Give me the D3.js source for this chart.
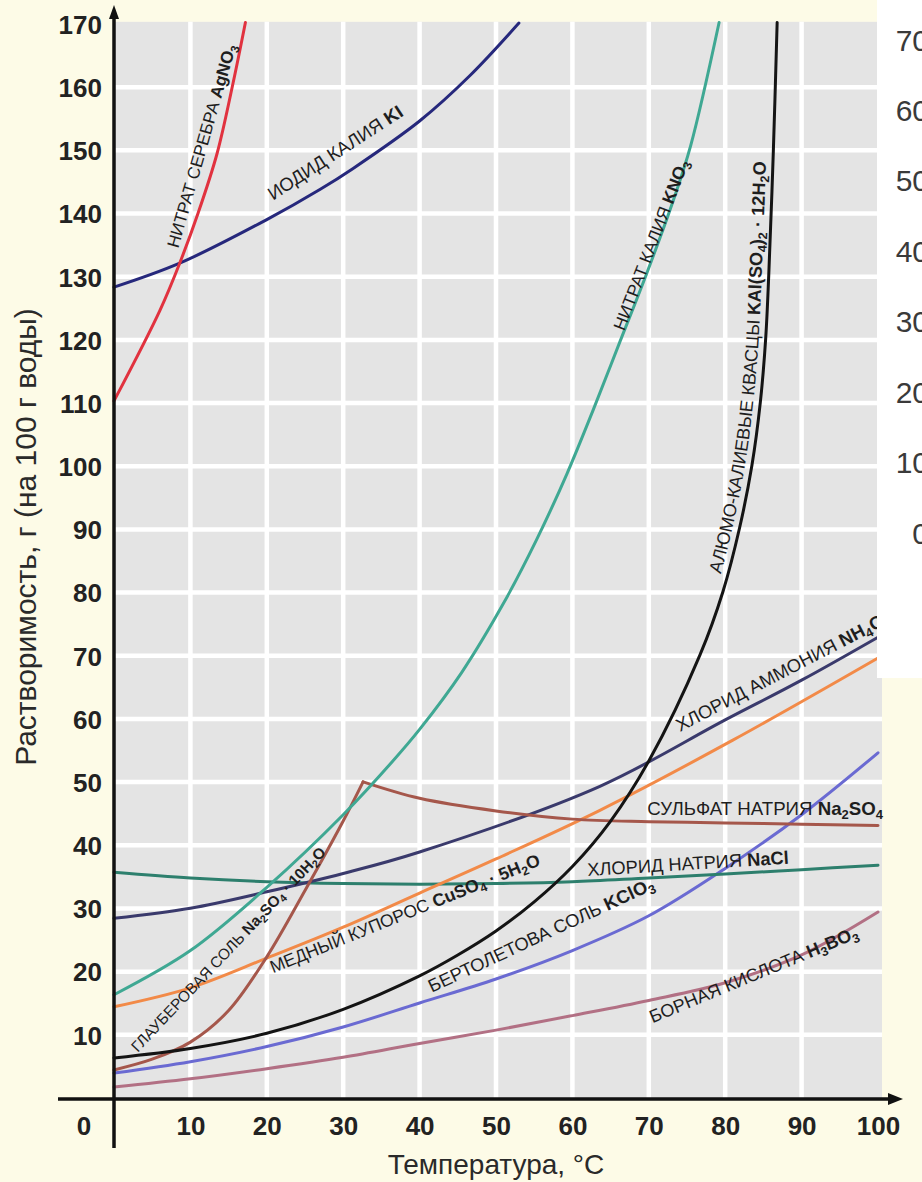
<!DOCTYPE html>
<html><head><meta charset="utf-8">
<script src="https://cdn.jsdelivr.net/npm/d3@7"></script>
<style>
html,body{margin:0;padding:0;background:#fdfbe7;}
svg{display:block;}
</style>
</head><body>
<svg id="chart" width="922" height="1182"></svg>
<script>
// ---------------- DATA ----------------
// temperature (°C) and solubility (g per 100 g water)
const agno3T = [0, 6, 8.6, 11, 13.5, 15.6, 17.2];
const agno3V = [110.5, 124.8, 132.3, 140.2, 149.7, 160.9, 170.4];

const kiT = [0, 8.6, 20, 27, 31.3, 40, 46.6, 53];
const kiV = [128.5, 132.3, 139.2, 144, 147.3, 154.8, 162, 170.3];

const kno3T = [0, 10, 20, 30, 36.5, 40, 45.5, 51, 55.3, 59.3, 62.7, 66.2, 69.7, 73, 75.5, 79.2];
const kno3V = [16.5, 23.5, 33.5, 45, 53.5, 58.5, 67.5, 78.5, 88.5, 99, 109, 119.8, 130.6, 141.5, 151, 170.4];

const alumT = [0, 10, 20, 30, 40, 45, 50, 55, 60, 65, 70, 76.7, 79.7, 81.9, 83.5, 84.6, 85.3, 85.7, 86.3, 86.8];
const alumV = [6.5, 8, 10.4, 14.2, 19.5, 22.8, 26.6, 31.2, 36.8, 44, 53.5, 70.3, 80.3, 90.5, 100.3, 110.3, 120.4, 130.4, 150, 170.4];

const nh4clT = [0, 10, 20, 30, 40, 63.6, 80, 90, 100];
const nh4clV = [28.6, 30.2, 32.8, 35.7, 39.1, 49.5, 60, 66.3, 73.1];

const cuso4T = [0, 10, 20, 30, 40, 50, 63.6, 81, 100];
const cuso4V = [14.6, 17.6, 22.3, 27.2, 32.6, 38, 45.7, 56.8, 69.8];

const glauberT = [0, 5, 10, 15, 20, 25, 30, 32.6];
const glauberV = [4.6, 6.3, 9, 14, 22.5, 33, 44, 50.2];

const na2so4T = [32.6, 40, 50, 60, 70, 80, 90, 100];
const na2so4V = [50.2, 47.6, 45.6, 44.3, 43.9, 43.7, 43.5, 43.3];

const naclT = [0, 10, 20, 30, 40, 50, 60, 70, 80, 90, 100];
const naclV = [35.9, 35.0, 34.4, 34.1, 34.0, 34.1, 34.4, 35.0, 35.6, 36.3, 37.0];

const kclo3T = [0, 10, 20, 30, 40, 50, 60, 70, 80, 90, 100];
const kclo3V = [4.1, 5.9, 8.3, 11.4, 15.2, 19, 23.5, 29, 36.5, 45, 54.8];

const h3bo3T = [0, 10, 20, 30, 40, 50, 60, 70, 80, 90, 100];
const h3bo3V = [1.9, 3.2, 4.8, 6.6, 8.8, 10.9, 13.2, 15.6, 18.4, 22.8, 29.6];

const yTicks = [10, 20, 30, 40, 50, 60, 70, 80, 90, 100, 110, 120, 130, 140, 150, 160, 170];
const xTicks = [10, 20, 30, 40, 50, 60, 70, 80, 90, 100];
const sideTicks = [70, 60, 50, 40, 30, 20, 10, 0];

// ---------------- LAYOUT ----------------
const svg = d3.select("#chart");
const x = d3.scaleLinear().domain([0, 100]).range([114, 878]);
const y = d3.scaleLinear().domain([0, 170]).range([1099, 25]);

const C = {
  bg: "#fdfbe7", plot: "#e4e4e4", grid: "#ffffff",
  agno3: "#e1323f", ki: "#26287c", kno3: "#3fa893", alum: "#141414",
  nh4cl: "#3a3a6c", cuso4: "#f28a48", na2so4: "#a5574b", nacl: "#2d7f6d",
  kclo3: "#6a6ad2", h3bo3: "#b27084", text: "#1e1e1e"
};

svg.append("rect").attr("width", 922).attr("height", 1182).attr("fill", C.bg);

// plot background
svg.append("rect")
  .attr("x", x(0)).attr("y", y(170.5))
  .attr("width", x(100) - x(0) + 4).attr("height", y(0) - y(170.5))
  .attr("fill", C.plot);

// grid
const grid = svg.append("g");
grid.selectAll("line.h").data(yTicks.filter(d => d < 170)).enter().append("line")
  .attr("x1", x(0)).attr("x2", x(100) + 4)
  .attr("y1", d => y(d) - 1).attr("y2", d => y(d) - 1)
  .attr("stroke", C.grid).attr("stroke-width", 4.5);
grid.selectAll("line.v").data(xTicks.filter(d => d < 100)).enter().append("line")
  .attr("y1", y(170.5)).attr("y2", y(0))
  .attr("x1", d => x(d)).attr("x2", d => x(d))
  .attr("stroke", C.grid).attr("stroke-width", 4.5);

// curves
const zip = (T, V) => T.map((t, i) => [t, V[i]]);
const line = d3.line().x(d => x(d[0])).y(d => y(d[1])).curve(d3.curveCatmullRom.alpha(0.5));

const series = [
  { id: "h3bo3", T: h3bo3T, V: h3bo3V, c: C.h3bo3 },
  { id: "kclo3", T: kclo3T, V: kclo3V, c: C.kclo3 },
  { id: "nacl", T: naclT, V: naclV, c: C.nacl },
  { id: "cuso4", T: cuso4T, V: cuso4V, c: C.cuso4 },
  { id: "nh4cl", T: nh4clT, V: nh4clV, c: C.nh4cl },
  { id: "glauber", T: glauberT, V: glauberV, c: C.na2so4 },
  { id: "na2so4", T: na2so4T, V: na2so4V, c: C.na2so4 },
  { id: "kno3", T: kno3T, V: kno3V, c: C.kno3 },
  { id: "alum", T: alumT, V: alumV, c: C.alum },
  { id: "ki", T: kiT, V: kiV, c: C.ki },
  { id: "agno3", T: agno3T, V: agno3V, c: C.agno3 }
];
const curves = svg.append("g");
series.forEach(s => {
  curves.append("path")
    .attr("id", "p_" + s.id)
    .attr("d", line(zip(s.T, s.V)))
    .attr("fill", "none").attr("stroke", s.c)
    .attr("stroke-width", 3).attr("stroke-linecap", "round").attr("stroke-linejoin", "round");
});

// ---------------- LABELS ----------------
function tokens(f) {
  const out = []; let i = 0, cur = "";
  while (i < f.length) {
    if (f[i] === "_") {
      if (cur) { out.push({ s: cur, sub: false }); cur = ""; }
      i++; let d = "";
      while (i < f.length && /[0-9]/.test(f[i])) { d += f[i]; i++; }
      out.push({ s: d, sub: true });
    } else { cur += f[i]; i++; }
  }
  if (cur) out.push({ s: cur, sub: false });
  return out;
}
function fillRich(parent, pre, f, firstDy) {
  const t0 = parent.append("tspan").text(pre);
  if (firstDy) t0.attr("dy", firstDy);
  let prevSub = false;
  tokens(f).forEach(tk => {
    const ts = parent.append("tspan").text(tk.s).attr("font-weight", "bold");
    if (tk.sub) { ts.attr("font-size", "70%").attr("dy", "0.3em"); prevSub = true; }
    else if (prevSub) { ts.attr("dy", "-0.21em"); prevSub = false; }
  });
}
function fitSize(textSel, fs, len) {
  textSel.attr("font-size", fs);
  if (!len) return;
  const L = textSel.node().getComputedTextLength();
  if (L > 0) textSel.attr("font-size", fs * len / L);
}

const labels = [
  { pre: "НИТРАТ СЕРЕБРА ", f: "AgNO_3", t: 8.4, v: 134.6, a: -74, len: 211 },
  { pre: "ИОДИД КАЛИЯ ", f: "KI", t: 20.8, v: 142.2, a: -33, len: 157 },
  { pre: "НИТРАТ КАЛИЯ ", f: "KNO_3", t: 66.8, v: 121.5, a: -69, len: 181 },
  { pre: "ХЛОРИД АММОНИЯ ", f: "NH_4Cl", t: 74.1, v: 58.1, a: -27.5, len: 236 },
  { pre: "СУЛЬФАТ НАТРИЯ ", f: "Na_2SO_4", t: 69.8, v: 44.9, a: 0, len: 236 },
  { pre: "ХЛОРИД НАТРИЯ ", f: "NaCl", t: 62.0, v: 35.3, a: -3.5, len: 202 },
  { pre: "МЕДНЫЙ КУПОРОС  ", f: "CuSO_4 · 5H_2O", t: 20.8, v: 19.9, a: -22, len: 290 },
  { pre: "БЕРТОЛЕТОВА СОЛЬ ", f: "KClO_3", t: 41.6, v: 16.8, a: -25, len: 247 },
  { pre: "БОРНАЯ КИСЛОТА ", f: "H_3BO_3", t: 70.5, v: 12.0, a: -22.5, len: 224 },
  { pre: "ГЛАУБЕРОВАЯ СОЛЬ ", f: "Na_2SO_4 · 10H_2O", t: 3.1, v: 7.3, a: -46.6, len: 275 }
];
const lab = svg.append("g")
  .attr("font-family", "'Liberation Sans', Arial, sans-serif")
  .attr("fill", C.text);
labels.forEach(l => {
  const t = lab.append("text")
    .attr("transform", `translate(${x(l.t)},${y(l.v)}) rotate(${l.a})`);
  fillRich(t, l.pre, l.f);
  fitSize(t, 17, l.len);
});

// alum label follows its curve
const alumLabel = { pre: "АЛЮМО-КАЛИЕВЫЕ КВАСЦЫ  ", f: "KAl(SO_4)_2 · 12H_2O", startT: 80.3, dy: -7, len: 418 };
(function () {
  const p = d3.select("#p_alum").node();
  const total = p.getTotalLength();
  let lo = 0, hi = total;
  const tx = x(alumLabel.startT);
  for (let k = 0; k < 40; k++) {
    const mid = (lo + hi) / 2;
    if (p.getPointAtLength(mid).x < tx) lo = mid; else hi = mid;
  }
  const t = lab.append("text");
  const tp = t.append("textPath").attr("href", "#p_alum").attr("startOffset", lo);
  fillRich(tp, alumLabel.pre, alumLabel.f, alumLabel.dy);
  fitSize(t, 17, alumLabel.len);
})();

// ---------------- AXES ----------------
const tickFont = "'Liberation Sans', Arial, sans-serif";
const yAx = svg.append("g").attr("transform", `translate(${x(0)},0)`)
  .call(d3.axisLeft(y).tickValues(yTicks).tickSize(0).tickPadding(12));
const xAx = svg.append("g").attr("transform", `translate(0,${y(0)})`)
  .call(d3.axisBottom(x).tickValues(xTicks).tickSize(0).tickPadding(18));
[yAx, xAx].forEach(g => {
  g.select(".domain").remove();
  g.selectAll("text").attr("font-family", tickFont).attr("font-weight", "bold")
    .attr("font-size", 26).attr("fill", "#222");
});
svg.append("text").attr("x", x(0) - 30).attr("y", y(0) + 18).attr("dy", "0.71em")
  .attr("text-anchor", "middle").attr("font-family", tickFont).attr("font-weight", "bold")
  .attr("font-size", 26).attr("fill", "#222").text("0");

// axis lines with arrows
const ax = svg.append("g").attr("stroke", "#111").attr("stroke-width", 3.5);
ax.append("line").attr("x1", x(0)).attr("x2", x(0)).attr("y1", y(0) + 49).attr("y2", 14);
ax.append("line").attr("x1", 58).attr("x2", 893).attr("y1", y(0)).attr("y2", y(0));
svg.append("path").attr("d", `M${x(0)},5 L${x(0) - 5},19 L${x(0) + 5},19 Z`).attr("fill", "#111");
svg.append("path").attr("d", `M903,${y(0)} L888,${y(0) - 6} L888,${y(0) + 6} Z`).attr("fill", "#111");

// axis titles
svg.append("text")
  .attr("transform", `translate(36,${537}) rotate(-90)`)
  .attr("text-anchor", "middle").attr("font-family", tickFont)
  .attr("font-size", 30).attr("fill", "#2a2a2a")
  .text("Растворимость, г (на 100 г воды)");
svg.append("text")
  .attr("x", (x(0) + x(100)) / 2).attr("y", 1174)
  .attr("text-anchor", "middle").attr("font-family", tickFont)
  .attr("font-size", 28).attr("fill", "#2a2a2a")
  .text("Температура, °C");

// ---------------- RIGHT WHITE PANEL (overlapping fragment) ----------------
svg.append("rect").attr("x", 877).attr("y", 0).attr("width", 45).attr("height", 678).attr("fill", "#ffffff");
const side = d3.scaleLinear().domain([0, 70]).range([533, 40]);
svg.append("g").selectAll("text").data(sideTicks).enter().append("text")
  .attr("x", 929).attr("y", d => side(d)).attr("dy", "0.35em")
  .attr("text-anchor", "end").attr("font-family", tickFont)
  .attr("font-size", 30).attr("fill", "#3a3a3a")
  .text(d => d);
</script>
</body></html>
